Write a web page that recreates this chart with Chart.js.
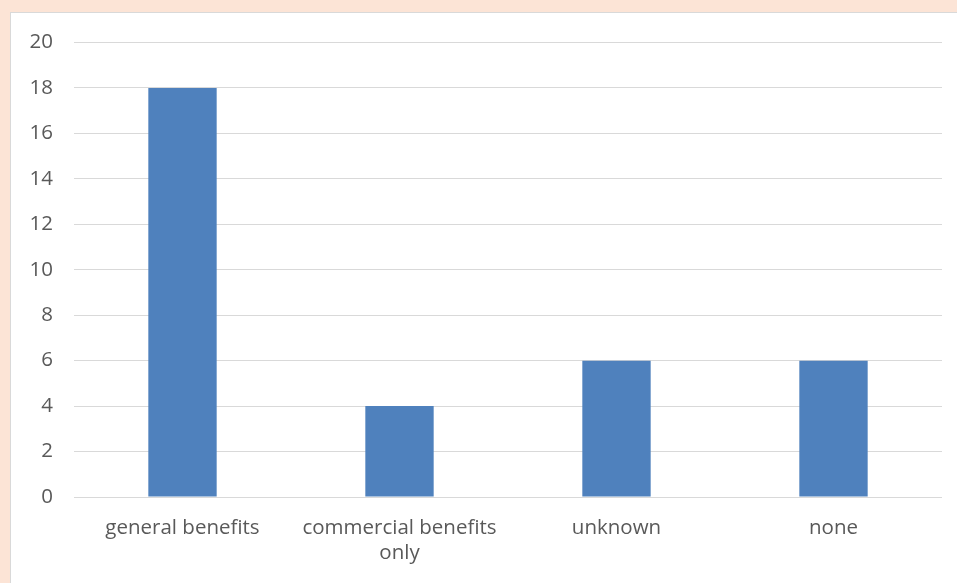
<!DOCTYPE html>
<html lang="en">
<head>
  <meta charset="UTF-8" />
  <title>Benefits chart</title>
  <script src="https://cdn.jsdelivr.net/npm/chart.js"></script>
  <style>
    body {
      margin: 0;
      background: #FCE4D6;
      width: 957px;
      height: 583px;
      overflow: hidden;
      position: relative;
    }

    .panel {
      position: absolute;
      left: 10px;
      top: 12px;
      width: 960px;
      height: 590px;
      background: #fff;
      border: 1px solid #D9D9D9;
    }

    .panel canvas {
      position: absolute;
      left: 0;
      top: -4px;
    }
  </style>
</head>
<body>

  <div class="panel">
    <canvas id="benefitsChart" width="946" height="570"></canvas>
  </div>

  <script>
    const categories = [
      'general benefits',
      ['commercial benefits', 'only'],
      'unknown',
      'none'
    ];
    const counts = [18, 4, 6, 6];
    const yTicks = [0, 2, 4, 6, 8, 10, 12, 14, 16, 18, 20];

    const font = { family: "'Open Sans', sans-serif", size: 20.5, lineHeight: 1.22 };

    new Chart(document.getElementById('benefitsChart'), {
      type: 'bar',
      data: {
        labels: categories,
        datasets: [{
          data: counts,
          backgroundColor: '#4F81BD',
          barPercentage: 0.63,
          categoryPercentage: 0.5
        }]
      },
      options: {
        responsive: false,
        animation: false,
        layout: { padding: { top: 24, right: 15, left: 0, bottom: 0 } },
        plugins: {
          legend: { display: false },
          tooltip: { enabled: false }
        },
        scales: {
          x: {
            grid: { display: false },
            border: { display: false },
            ticks: { color: '#595959', font: font, padding: 11, maxRotation: 0 },
            afterFit: (scale) => { scale.height = 82; }
          },
          y: {
            min: 0,
            max: 20,
            afterBuildTicks: (scale) => {
              scale.ticks = yTicks.map(v => ({ value: v }));
            },
            grid: { color: '#D9D9D9', lineWidth: 1, drawTicks: false },
            border: { display: false },
            ticks: { color: '#595959', font: font, padding: 21 },
            afterFit: (scale) => { scale.width = 63; }
          }
        }
      }
    });
  </script>
</body>
</html>
